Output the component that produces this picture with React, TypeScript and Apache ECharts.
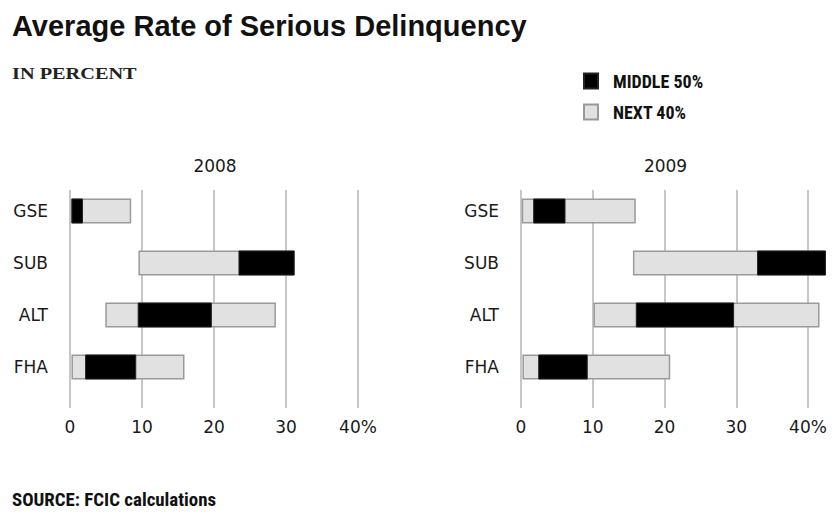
import React, { useEffect, useRef } from "react";
import * as echarts from "echarts";

const categories = ["GSE", "SUB", "ALT", "FHA"];

// 2008
const low2008 = [0.1, 9.5, 4.9, 0.2];
const q1_2008 = [0.2, 23.4, 9.4, 2.1];
const q3_2008 = [1.8, 31.2, 19.7, 9.2];
const high2008 = [8.5, 31.2, 28.6, 15.9];

// 2009
const low2009 = [0.1, 15.6, 10.1, 0.2];
const q1_2009 = [1.7, 32.9, 16.0, 2.4];
const q3_2009 = [6.2, 42.5, 29.7, 9.3];
const high2009 = [16.0, 42.5, 41.6, 20.8];

const panels = [
  { year: "2008", low: low2008, q1: q1_2008, q3: q3_2008, high: high2008, left: 70, width: 288 },
  { year: "2009", low: low2009, q1: q1_2009, q3: q3_2009, high: high2009, left: 521, width: 287 },
];

const LIGHT = "#e1e1e1";
const LIGHT_BORDER = "#9a9a9a";
const GRIDLINE = "#b5b5b5";
const TEXT = "#1a1a1a";
const SANS = "DejaVu Sans";
const NARROW = "'Liberation Sans Narrow', 'Roboto Condensed', 'DejaVu Sans Condensed', sans-serif";

export default function App() {
  const ref = useRef<HTMLDivElement>(null);
  useEffect(() => {
    document.body.style.margin = "0";
    const chart = echarts.init(ref.current!, null, { renderer: "svg" });
    const grid: any[] = [];
    const xAxis: any[] = [];
    const yAxis: any[] = [];
    const series: any[] = [];
    const graphic: any[] = [];
    panels.forEach((p, i) => {
      grid.push({ left: p.left, width: p.width, top: 185, height: 208 });
      grid.push({ left: p.left, width: p.width, top: 190, height: 218 });
      const gb = i * 2;
      const gl = i * 2 + 1;
      xAxis.push({
        gridIndex: gb, type: "value", min: 0, max: 40, interval: 10,
        axisLine: { show: false }, axisTick: { show: false }, axisLabel: { show: false }, splitLine: { show: false },
      });
      xAxis.push({
        gridIndex: gl, type: "value", min: 0, max: 40, interval: 10,
        axisLine: { show: false }, axisTick: { show: false },
        axisLabel: {
          color: TEXT, fontFamily: SANS, fontSize: 17, margin: 10,
          formatter: (v: number) => (v === 40 ? "40%" : String(v)),
        },
        splitLine: { show: true, lineStyle: { color: GRIDLINE, width: 1.5 } },
      });
      yAxis.push({
        gridIndex: gb, type: "category", data: categories, inverse: true,
        axisLine: { show: false }, axisTick: { show: false }, splitLine: { show: false },
        axisLabel: { color: TEXT, fontFamily: SANS, fontSize: 17, margin: 22 },
      });
      yAxis.push({ gridIndex: gl, type: "value", min: 0, max: 1, show: false });
      const base = { type: "bar", xAxisIndex: gb, yAxisIndex: gb, barWidth: 25, barGap: "-100%", clip: false, silent: true };
      series.push({ ...base, name: "lowL" + i, stack: "L" + i, itemStyle: { color: "transparent" }, data: p.low });
      series.push({
        ...base, name: "NEXT 40%", stack: "L" + i,
        itemStyle: { color: LIGHT, borderColor: LIGHT_BORDER, borderWidth: 1.5 },
        data: p.high.map((h, k) => +(h - p.low[k]).toFixed(2)),
      });
      series.push({ ...base, name: "lowB" + i, stack: "B" + i, itemStyle: { color: "transparent" }, data: p.q1 });
      series.push({
        ...base, name: "MIDDLE 50%", stack: "B" + i,
        itemStyle: { color: "#000", borderColor: "#222", borderWidth: 1 },
        data: p.q3.map((h, k) => +(h - p.q1[k]).toFixed(2)),
      });
      graphic.push({
        type: "text", x: p.left + p.width / 2 + 1, y: 157,
        style: { text: p.year, fill: TEXT, font: `17px ${SANS}`, textAlign: "center" },
      });
    });

    graphic.push({
      type: "text", left: 12, top: 11,
      style: { text: "Average Rate of Serious Delinquency", fill: "#111", font: `bold 29px 'Liberation Sans', sans-serif` },
    });
    graphic.push({
      type: "text", x: 12, y: 66, scaleX: 1.27,
      style: { text: "IN PERCENT", fill: "#222", font: `bold 16px 'Liberation Serif', serif` },
    });
    graphic.push({
      type: "text", x: 12, y: 491, scaleX: 1.05,
      style: { text: "SOURCE: FCIC calculations", fill: "#111", font: `bold 18px ${NARROW}` },
    });

    chart.setOption({
      animation: false,
      backgroundColor: "#fff",
      grid,
      xAxis,
      yAxis,
      series,
      graphic,
      legend: {
        data: [
          { name: "MIDDLE 50%", icon: "rect" },
          { name: "NEXT 40%", icon: "rect" },
        ],
        orient: "vertical",
        left: 578,
        top: 67,
        itemWidth: 14,
        itemHeight: 15,
        itemGap: 13,
        textStyle: { color: "#111", fontFamily: NARROW, fontSize: 18, fontWeight: "bold", padding: [0, 0, 0, 10] },
        selectedMode: false,
      },
    });
    return () => chart.dispose();
  }, []);
  return <div ref={ref} style={{ width: 836, height: 531 }} />;
}
